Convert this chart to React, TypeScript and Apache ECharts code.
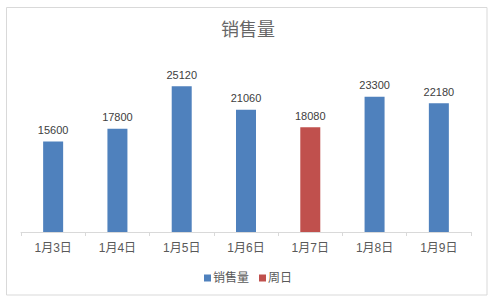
import React, { useEffect, useRef } from "react";
import * as echarts from "echarts";

const categories = ["1月3日", "1月4日", "1月5日", "1月6日", "1月7日", "1月8日", "1月9日"];
const salesValues: (number | string)[] = [15600, 17800, 25120, 21060, "-", 23300, 22180];
const sundayValues: (number | string)[] = ["-", "-", "-", "-", 18080, "-", "-"];
const seriesNames = ["销售量", "周日"];
const titleText = "销售量";

const FONT = "'Liberation Sans', 'Noto Sans CJK SC', sans-serif";

export default function App() {
  const ref = useRef<HTMLDivElement>(null);
  useEffect(() => {
    if (!ref.current) return;
    const chart = echarts.init(ref.current, null, { renderer: "svg" });
    const label = {
      show: true,
      position: "top" as const,
      distance: 6,
      color: "#404040",
      fontSize: 11,
      fontFamily: FONT,
    };
    chart.setOption({
      animation: false,
      backgroundColor: "#ffffff",
      title: {
        text: titleText,
        left: "center",
        top: 16,
        textStyle: { color: "#666666", fontSize: 18, fontWeight: "normal", fontFamily: FONT },
      },
      legend: {
        bottom: 14,
        left: "center",
        icon: "rect",
        itemWidth: 7,
        itemHeight: 7,
        itemGap: 10,
        textStyle: { color: "#595959", fontSize: 12, fontFamily: FONT, padding: [0, 0, 0, -3] },
        data: seriesNames,
      },
      grid: { left: 21, right: 25, top: 58, bottom: 71 },
      xAxis: {
        type: "category",
        data: categories,
        axisLine: { lineStyle: { color: "#d9d9d9" } },
        axisTick: { show: true, length: 4, lineStyle: { color: "#d9d9d9" } },
        axisLabel: { color: "#595959", fontSize: 12, fontFamily: FONT, margin: 10 },
      },
      yAxis: {
        type: "value",
        min: 0,
        max: 30000,
        show: false,
        splitLine: { show: false },
      },
      graphic: [
        {
          type: "rect",
          shape: { x: 6.5, y: 7.5, width: 480.5, height: 287.5 },
          style: { fill: "none", stroke: "#d9d9d9", lineWidth: 1 },
          silent: true,
        },
      ],
      series: [
        {
          name: seriesNames[0],
          type: "bar",
          data: salesValues,
          barWidth: 20,
          barGap: "-100%",
          itemStyle: { color: "#4f81bd" },
          label,
        },
        {
          name: seriesNames[1],
          type: "bar",
          data: sundayValues,
          barWidth: 20,
          barGap: "-100%",
          itemStyle: { color: "#c0504d" },
          label,
        },
      ],
    });
    return () => chart.dispose();
  }, []);
  return (
    <div
      ref={ref}
      style={{ position: "fixed", left: 0, top: 0, width: 496, height: 303 }}
    />
  );
}
